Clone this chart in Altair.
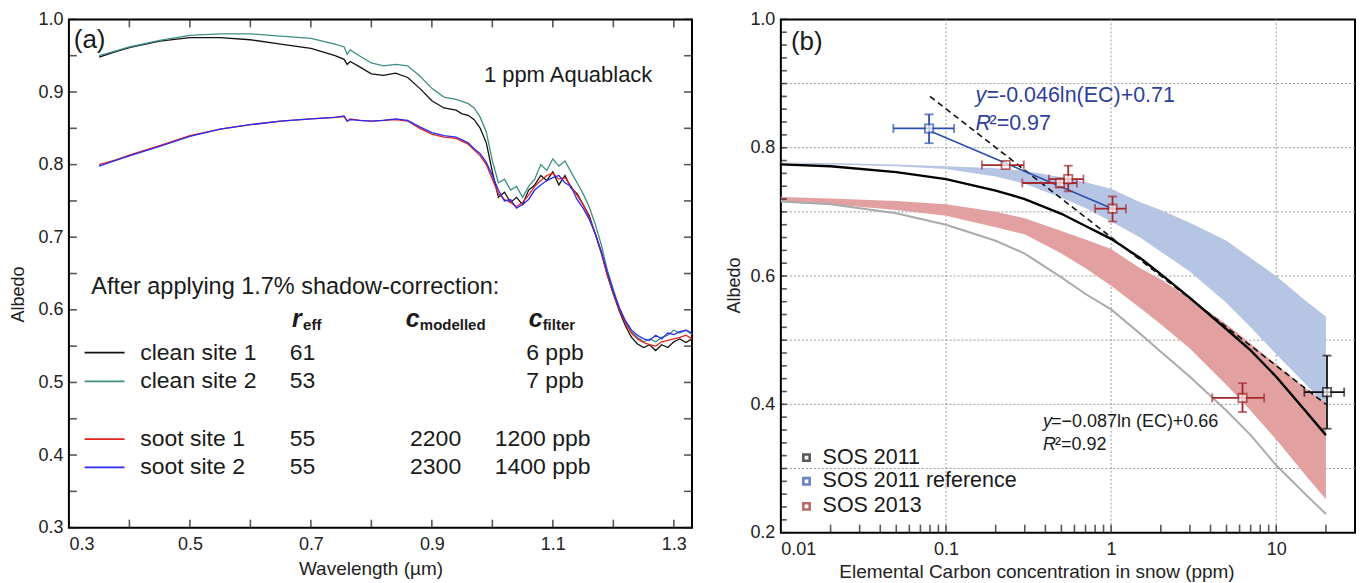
import altair as alt
import pandas as pd

FONT = "Liberation Sans"

# ---------------- panel (a): spectral albedo ----------------
wl = [0.35, 0.375, 0.40, 0.45, 0.50, 0.55, 0.60, 0.65, 0.70,
      0.74, 0.755, 0.76, 0.765, 0.78,
      0.80, 0.82, 0.84, 0.86, 0.88, 0.90, 0.92, 0.94,
      0.95, 0.96, 0.97, 0.98, 0.99,
      1.00, 1.01, 1.02, 1.03, 1.04, 1.05, 1.06, 1.07, 1.08, 1.09,
      1.10, 1.11, 1.12, 1.13, 1.14, 1.15, 1.16, 1.17, 1.18, 1.19,
      1.20, 1.21, 1.22, 1.23, 1.24, 1.25, 1.26, 1.27, 1.28, 1.29,
      1.30, 1.31, 1.32, 1.33]

clean1 = [0.948, 0.955, 0.961, 0.970, 0.975, 0.975, 0.972, 0.966, 0.960,
          0.950, 0.945, 0.938, 0.942, 0.935,
          0.925, 0.923, 0.926, 0.920, 0.905, 0.888, 0.878, 0.875,
          0.870, 0.868, 0.862, 0.850, 0.830,
          0.790, 0.755, 0.762, 0.748, 0.755, 0.745, 0.765, 0.772, 0.785, 0.778,
          0.790, 0.772, 0.785, 0.768, 0.760, 0.745, 0.730, 0.705, 0.680, 0.648,
          0.622, 0.598, 0.578, 0.562, 0.553, 0.548, 0.552, 0.544, 0.552, 0.548,
          0.556, 0.560, 0.555, 0.560]

clean2 = [0.950, 0.956, 0.962, 0.971, 0.978, 0.980, 0.980, 0.977, 0.974,
          0.966, 0.962, 0.952, 0.958, 0.950,
          0.940, 0.936, 0.938, 0.936, 0.922, 0.905, 0.893, 0.890,
          0.887, 0.884, 0.878, 0.865, 0.845,
          0.805, 0.775, 0.780, 0.765, 0.770, 0.755, 0.770, 0.780, 0.800, 0.792,
          0.808, 0.798, 0.805, 0.790, 0.775, 0.760, 0.742, 0.718, 0.690, 0.655,
          0.628, 0.602, 0.583, 0.570, 0.562, 0.556, 0.560, 0.556, 0.562, 0.565,
          0.572, 0.568, 0.572, 0.566]

soot1 = [0.800, 0.806, 0.813, 0.826, 0.840, 0.849, 0.855, 0.860, 0.863,
         0.865, 0.866, 0.860, 0.863, 0.861,
         0.860, 0.861, 0.862, 0.860, 0.850, 0.842, 0.838, 0.836,
         0.832, 0.828, 0.820, 0.812, 0.800,
         0.780, 0.760, 0.752, 0.748, 0.742, 0.748, 0.758, 0.770, 0.778, 0.785,
         0.788, 0.780, 0.782, 0.770, 0.758, 0.745, 0.728, 0.705, 0.678, 0.648,
         0.622, 0.600, 0.582, 0.568, 0.560, 0.555, 0.552, 0.550, 0.556, 0.558,
         0.560, 0.562, 0.565, 0.560]

soot2 = [0.798, 0.805, 0.812, 0.825, 0.839, 0.849, 0.855, 0.860, 0.863,
         0.865, 0.867, 0.860, 0.862, 0.861,
         0.860, 0.861, 0.863, 0.861, 0.852, 0.844, 0.840, 0.838,
         0.834, 0.830, 0.822, 0.815, 0.803,
         0.785, 0.765, 0.750, 0.752, 0.740, 0.745, 0.752, 0.765, 0.772, 0.778,
         0.782, 0.785, 0.775, 0.770, 0.752, 0.740, 0.725, 0.705, 0.680, 0.652,
         0.625, 0.603, 0.585, 0.572, 0.565, 0.560, 0.558, 0.565, 0.560, 0.568,
         0.566, 0.570, 0.572, 0.568]

site_names = ["clean site 1", "clean site 2", "soot site 1", "soot site 2"]
site_colors = ["#111111", "#3f8d86", "#e3231f", "#2b2bf0"]
r_eff = ["61", "53", "55", "55"]
c_modelled = ["", "", "2200", "2300"]
c_filter = ["6 ppb", "7 ppb", "1200 ppb", "1400 ppb"]
legend_rows_y = [0.541, 0.5015, 0.422, 0.383]
c_filter_x = [1.056, 1.056, 1.004, 1.004]

a_xticks = [0.3, 0.4, 0.5, 0.6, 0.7, 0.8, 0.9, 1.0, 1.1, 1.2, 1.3]
a_xlabels = [0.3, 0.5, 0.7, 0.9, 1.1, 1.3]
a_yticks = [0.3, 0.35, 0.4, 0.45, 0.5, 0.55, 0.6, 0.65, 0.7, 0.75, 0.8, 0.85, 0.9, 0.95, 1.0]
a_ylabels = [0.3, 0.4, 0.5, 0.6, 0.7, 0.8, 0.9, 1.0]

# ---------------- panel (b): albedo vs EC ----------------
ec = [0.01, 0.02, 0.05, 0.1, 0.2, 0.3, 0.5, 0.7, 1, 1.5, 2, 3, 5, 7, 10, 15, 20]
model_black = [0.774, 0.771, 0.762, 0.751, 0.733, 0.720, 0.697, 0.678, 0.658,
               0.628, 0.603, 0.566, 0.517, 0.484, 0.443, 0.390, 0.352]
model_grey = [0.716, 0.712, 0.698, 0.680, 0.655, 0.635, 0.598, 0.572, 0.548,
              0.510, 0.482, 0.443, 0.390, 0.352, 0.305, 0.260, 0.229]
blue_hi = [0.777, 0.776, 0.774, 0.771, 0.768, 0.764, 0.754, 0.746, 0.736,
           0.715, 0.703, 0.683, 0.655, 0.628, 0.600, 0.562, 0.537]
blue_lo = [0.776, 0.774, 0.771, 0.767, 0.755, 0.744, 0.722, 0.706, 0.685,
           0.660, 0.638, 0.607, 0.558, 0.520, 0.478, 0.432, 0.397]
red_hi = [0.723, 0.721, 0.717, 0.712, 0.700, 0.690, 0.670, 0.657, 0.642,
          0.612, 0.595, 0.565, 0.525, 0.495, 0.462, 0.425, 0.402]
red_lo = [0.716, 0.712, 0.703, 0.694, 0.676, 0.665, 0.635, 0.612, 0.585,
          0.550, 0.525, 0.487, 0.430, 0.390, 0.345, 0.290, 0.252]

fit_all_x = [0.08, 20]
fit_all_y = [0.880, 0.400]
fit_ref_x = [0.08, 1.02]
fit_ref_y = [0.826, 0.705]

pt_group = ["SOS 2011 reference", "SOS 2013", "SOS 2013", "SOS 2013", "SOS 2013", "SOS 2013", "SOS 2011"]
pt_x = [0.079, 0.23, 0.49, 0.55, 1.02, 6.25, 20.3]
pt_y = [0.830, 0.773, 0.745, 0.751, 0.705, 0.410, 0.419]
pt_xlo = [0.048, 0.165, 0.29, 0.42, 0.80, 4.1, 14.8]
pt_xhi = [0.112, 0.296, 0.62, 0.68, 1.23, 8.45, 25.8]
pt_ylo = [0.807, None, 0.738, 0.732, 0.685, 0.388, 0.362]
pt_yhi = [0.852, None, 0.752, 0.772, 0.724, 0.433, 0.476]

grp_names = ["SOS 2011", "SOS 2011 reference", "SOS 2013"]
grp_colors = ["#111111", "#2c4fae", "#a3282c"]
leg_y = [0.317, 0.280, 0.241]

b_xgrid = [0.1, 1, 10]
b_ygrid = [0.3, 0.4, 0.5, 0.6, 0.7, 0.8, 0.9]
b_xticks = [0.02, 0.03, 0.04, 0.05, 0.06, 0.07, 0.08, 0.09, 0.1,
            0.2, 0.3, 0.4, 0.5, 0.6, 0.7, 0.8, 0.9, 1,
            2, 3, 4, 5, 6, 7, 8, 9, 10, 20]
b_xlabels = [0.01, 0.1, 1, 10]
b_yticks = [round(0.2 + 0.02 * i, 2) for i in range(41)]
b_ylabels = [0.2, 0.4, 0.6, 0.8, 1.0]

# ---------------- scales / axes ----------------
W1, H1 = 624, 509
W2, H2 = 575, 514
xs1 = alt.Scale(domain=[0.3, 1.33], nice=False, zero=False)
ys1 = alt.Scale(domain=[0.3, 1.0], nice=False, zero=False)
xs2 = alt.Scale(type="log", domain=[0.01, 30], nice=False)
ys2 = alt.Scale(domain=[0.2, 1.0], nice=False, zero=False)

axis_x1 = alt.Axis(values=a_xlabels, format=".1f", ticks=False, domain=False, grid=False,
                   title="Wavelength (µm)", labelPadding=8, titlePadding=6,
                   titleX=302, titleFontSize=19)
axis_y1 = alt.Axis(values=a_ylabels, format=".1f", ticks=False, domain=False, grid=False,
                   title="Albedo", labelPadding=6, titlePadding=10, titleY=275)
axis_x2 = alt.Axis(values=b_xlabels, format="~g", ticks=False, domain=False, grid=False,
                   title="Elemental Carbon concentration in snow (ppm)", labelPadding=8,
                   titlePadding=4, titleX=256, titleFontSize=19)
axis_y2 = alt.Axis(values=b_ylabels, format=".1f", ticks=False, domain=False, grid=False,
                   title="Albedo", labelPadding=6, titlePadding=6, titleY=266)


def X1(f):
    return alt.X(f"{f}:Q", scale=xs1, axis=axis_x1)


def Y1(f):
    return alt.Y(f"{f}:Q", scale=ys1, axis=axis_y1)


def X2(f):
    return alt.X(f"{f}:Q", scale=xs2, axis=axis_x2)


def Y2(f):
    return alt.Y(f"{f}:Q", scale=ys2, axis=axis_y2)


def text_layer(XF, YF, x, y, s, size, color="#1a1a1a", weight="normal",
               style="normal", align="left", dx=0, dy=0):
    df = pd.DataFrame({"x": [x], "y": [y], "t": [s]})
    return alt.Chart(df).mark_text(
        font=FONT, fontSize=size, color=color, fontWeight=weight,
        fontStyle=style, align=align, baseline="middle", dx=dx, dy=dy
    ).encode(x=XF("x"), y=YF("y"), text="t:N")


def ticks_x(vals, XF, ypix, size):
    return alt.Chart(pd.DataFrame({"v": vals})).mark_tick(
        orient="vertical", size=size, thickness=1.6, color="#111"
    ).encode(x=XF("v"), y=alt.value(ypix))


def ticks_y(vals, YF, xpix, size):
    return alt.Chart(pd.DataFrame({"v": vals})).mark_tick(
        orient="horizontal", size=size, thickness=1.6, color="#111"
    ).encode(y=YF("v"), x=alt.value(xpix))


# ---------------- build panel (a) ----------------
rows = []
for name, vals in zip(site_names, [clean1, clean2, soot1, soot2]):
    for w, v in zip(wl, vals):
        rows.append({"wl": w, "albedo": v, "site": name})
spec = pd.DataFrame(rows)

color_a = alt.Color("site:N", scale=alt.Scale(domain=site_names, range=site_colors), legend=None)

lines_a = alt.Chart(spec).mark_line(strokeWidth=1.3).encode(
    x=X1("wl"), y=Y1("albedo"), color=color_a)

leg_df = pd.DataFrame({"site": site_names, "y": legend_rows_y,
                       "x1": [0.326] * 4, "x2": [0.392] * 4,
                       "xn": [0.418] * 4, "xr": [0.665] * 4, "xm": [0.864] * 4,
                       "reff": r_eff, "cmod": c_modelled, "cfil": c_filter,
                       "cfx": c_filter_x})
leg_lines = alt.Chart(leg_df).mark_rule(strokeWidth=1.8).encode(
    x=X1("x1"), x2="x2:Q", y=Y1("y"), color=color_a)


def col_text(field, xfield):
    return alt.Chart(leg_df).mark_text(
        font=FONT, fontSize=23, color="#1a1a1a", align="left", baseline="middle"
    ).encode(x=X1(xfield), y=Y1("y"), text=f"{field}:N")


names_t = col_text("site", "xn")
reff_t = col_text("reff", "xr")
cmod_t = col_text("cmod", "xm")
cfil_t = col_text("cfil", "cfx")

hdr_y = 0.587
ann_a = [
    text_layer(X1, Y1, 0.308, 0.972, "(a)", 26),
    text_layer(X1, Y1, 0.986, 0.924, "1 ppm Aquablack", 22),
    text_layer(X1, Y1, 0.337, 0.631, "After applying 1.7% shadow-correction:", 23.5),
    text_layer(X1, Y1, 0.669, hdr_y, "r", 25, weight="bold", style="italic"),
    text_layer(X1, Y1, 0.669, hdr_y, "eff", 15, weight="bold", dx=11, dy=6),
    text_layer(X1, Y1, 0.857, hdr_y, "c", 25, weight="bold", style="italic"),
    text_layer(X1, Y1, 0.857, hdr_y, "modelled", 15, weight="bold", dx=14, dy=6),
    text_layer(X1, Y1, 1.060, hdr_y, "c", 25, weight="bold", style="italic"),
    text_layer(X1, Y1, 1.060, hdr_y, "filter", 15, weight="bold", dx=14, dy=6),
]

panel_a = alt.layer(
    lines_a,
    ticks_x(a_xticks, X1, H1 - 4, 8), ticks_x(a_xticks, X1, 4, 8),
    ticks_y(a_yticks, Y1, 4, 8), ticks_y(a_yticks, Y1, W1 - 4, 8),
    leg_lines, names_t, reff_t, cmod_t, cfil_t, *ann_a,
).properties(width=W1, height=H1)

# ---------------- build panel (b) ----------------
curves = pd.DataFrame({"ec": ec, "black": model_black, "grey": model_grey,
                       "bhi": blue_hi, "blo": blue_lo, "rhi": red_hi, "rlo": red_lo})

gx = alt.Chart(pd.DataFrame({"v": b_xgrid})).mark_rule(
    strokeDash=[2, 2], color="#9a9a9a", strokeWidth=1).encode(x=X2("v"))
gy = alt.Chart(pd.DataFrame({"v": b_ygrid})).mark_rule(
    strokeDash=[2, 2], color="#9a9a9a", strokeWidth=1).encode(y=Y2("v"))

band_b = alt.Chart(curves).mark_area(color="#b7c5e5").encode(
    x=X2("ec"), y=Y2("blo"), y2="bhi:Q")
band_r = alt.Chart(curves).mark_area(color="#e3a0a0").encode(
    x=X2("ec"), y=Y2("rlo"), y2="rhi:Q")
line_grey = alt.Chart(curves).mark_line(color="#aaaaaa", strokeWidth=2).encode(
    x=X2("ec"), y=Y2("grey"))
line_black = alt.Chart(curves).mark_line(color="#000000", strokeWidth=2.4).encode(
    x=X2("ec"), y=Y2("black"))

fit_all = alt.Chart(pd.DataFrame({"x": fit_all_x, "y": fit_all_y})).mark_line(
    color="#111", strokeWidth=1.6, strokeDash=[6, 4]).encode(x=X2("x"), y=Y2("y"))
fit_ref = alt.Chart(pd.DataFrame({"x": fit_ref_x, "y": fit_ref_y})).mark_line(
    color="#2c4fae", strokeWidth=1.6).encode(x=X2("x"), y=Y2("y"))

pts = pd.DataFrame({"g": pt_group, "x": pt_x, "y": pt_y, "xlo": pt_xlo, "xhi": pt_xhi,
                    "ylo": pt_ylo, "yhi": pt_yhi})
pts_y = pts.dropna(subset=["ylo"])
color_b = alt.Color("g:N", scale=alt.Scale(domain=grp_names, range=grp_colors), legend=None)
stroke_b = alt.Stroke("g:N", scale=alt.Scale(domain=grp_names, range=grp_colors), legend=None)

eb_x = alt.Chart(pts).mark_rule(strokeWidth=1.8).encode(
    x=X2("xlo"), x2="xhi:Q", y=Y2("y"), color=color_b)
eb_y = alt.Chart(pts_y).mark_rule(strokeWidth=1.8).encode(
    x=X2("x"), y=Y2("ylo"), y2="yhi:Q", color=color_b)
cap_xlo = alt.Chart(pts).mark_tick(orient="vertical", size=9, thickness=1.8).encode(
    x=X2("xlo"), y=Y2("y"), color=color_b)
cap_xhi = alt.Chart(pts).mark_tick(orient="vertical", size=9, thickness=1.8).encode(
    x=X2("xhi"), y=Y2("y"), color=color_b)
cap_ylo = alt.Chart(pts_y).mark_tick(orient="horizontal", size=9, thickness=1.8).encode(
    x=X2("x"), y=Y2("ylo"), color=color_b)
cap_yhi = alt.Chart(pts_y).mark_tick(orient="horizontal", size=9, thickness=1.8).encode(
    x=X2("x"), y=Y2("yhi"), color=color_b)
squares = alt.Chart(pts).mark_point(shape="square", filled=True, fill="white",
                                    strokeWidth=1.8, size=70).encode(
    x=X2("x"), y=Y2("y"), stroke=stroke_b)

leg_b = pd.DataFrame({"g": grp_names, "y": leg_y, "xs": [0.0143] * 3, "xt": [0.0179] * 3})
leg_sq = alt.Chart(leg_b).mark_point(shape="square", filled=True, fill="white",
                                     strokeWidth=2.6, size=40).encode(
    x=X2("xs"), y=Y2("y"), stroke=stroke_b)
leg_tx = alt.Chart(leg_b).mark_text(font=FONT, fontSize=21.5, color="#1a1a1a",
                                    align="left", baseline="middle").encode(
    x=X2("xt"), y=Y2("y"), text="g:N")

BLUE_T = "#2e3f9c"
ann_b = [
    text_layer(X2, Y2, 0.0115, 0.964, "(b)", 26),
    text_layer(X2, Y2, 0.151, 0.881, "y", 21.5, color=BLUE_T, style="italic"),
    text_layer(X2, Y2, 0.151, 0.881, "=-0.046ln(EC)+0.71", 21.5, color=BLUE_T, dx=11),
    text_layer(X2, Y2, 0.151, 0.837, "R", 21.5, color=BLUE_T, style="italic"),
    text_layer(X2, Y2, 0.151, 0.837, "²=0.97", 21.5, color=BLUE_T, dx=14),
    text_layer(X2, Y2, 0.387, 0.373, "y", 18, style="italic"),
    text_layer(X2, Y2, 0.387, 0.373, " =\u22120.087ln (EC)+0.66", 18, dx=8),
    text_layer(X2, Y2, 0.387, 0.337, "R", 18, style="italic"),
    text_layer(X2, Y2, 0.387, 0.337, "²=0.92", 18, dx=12),
]

panel_b = alt.layer(
    gx, gy, band_b, band_r, line_grey, line_black, fit_all, fit_ref,
    eb_x, eb_y, cap_xlo, cap_xhi, cap_ylo, cap_yhi, squares,
    ticks_x(b_xticks, X2, H2 - 4, 8), ticks_y(b_yticks, Y2, 3, 6),
    leg_sq, leg_tx, *ann_b,
).properties(width=W2, height=H2)

chart = alt.hconcat(panel_a, panel_b, spacing=89, bounds="flush").resolve_scale(
    color="independent", stroke="independent"
).properties(
    padding={"left": 8, "top": 9, "right": 4, "bottom": 4},
    background="white",
).configure_view(stroke="black", strokeWidth=2).configure_axis(
    labelFont=FONT, titleFont=FONT, labelFontSize=18, titleFontSize=18,
    labelColor="#222", titleColor="#222", titleFontWeight="normal",
)

chart.save("out.html", embed_options={"renderer": "svg", "actions": False})
